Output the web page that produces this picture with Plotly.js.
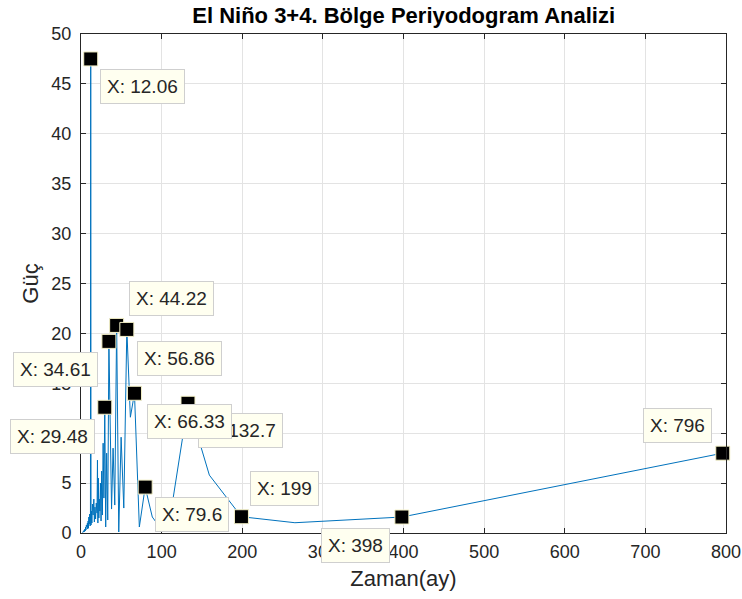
<!DOCTYPE html>
<html>
<head>
<meta charset="utf-8">
<script src="https://cdn.plot.ly/plotly-3.0.1.min.js"></script>
<style>html,body{margin:0;padding:0;background:#fff;}#chart{width:742px;height:599px;}</style>
</head>
<body>
<div id="chart"></div>
<script>
// Periods (months) of the periodogram, N = 796
const periods = [796, 398, 265.33, 199, 159.2, 132.67, 113.71, 99.5, 88.44, 79.6,
  72.36, 66.33, 61.23, 56.86, 53.07, 49.75, 46.82, 44.22, 41.89, 39.8,
  37.9, 36.18, 34.61, 33.17, 31.84, 30.62, 29.48, 28.43, 27.45, 26.53,
  25.68, 24.88, 24.12, 23.41, 22.74, 22.11, 21.51, 20.95, 20.41, 19.9,
  18.95, 18.09, 17.3, 16.58, 15.92, 15.02, 14.21, 13.49, 12.84, 12.44,
  12.06, 11.71, 11.37, 10.76, 10.21, 9.71, 9.26, 8.84, 8.38, 7.96,
  7.24, 6.63, 6.12, 5.69, 5.31, 4.82, 4.42, 3.98, 3.62, 3.18,
  2.84, 2.49, 2.21, 2.0];
// Power values
const power = [8.0, 1.6, 1.03, 1.63, 5.8, 13.0, 3.2, 0.4, 1.6, 4.6,
  0.6, 14.0, 11.6, 20.4, 2.5, 9.6, 0.1, 20.8, 2.8, 8.5,
  2.4, 10.0, 19.2, 1.3, 8.0, 0.6, 12.6, 3.5, 9.0, 1.8,
  6.2, 1.2, 5.0, 2.2, 3.4, 1.5, 5.5, 1.0, 7.3, 2.0,
  3.0, 1.4, 2.6, 1.1, 3.4, 1.8, 2.9, 1.0, 2.2, 0.8,
  47.5, 1.3, 0.7, 1.9, 0.9, 1.6, 0.5, 1.2, 0.4, 1.0,
  0.6, 0.8, 0.3, 0.6, 0.2, 0.4, 0.15, 0.3, 0.1, 0.2,
  0.08, 0.1, 0.05, 0.02];

// Data tips
const tipPeriods = [12.06, 44.22, 56.86, 34.61, 29.48, 132.67, 66.33, 79.6, 199, 398, 796];
const tipLabels  = ['X: 12.06', 'X: 44.22', 'X: 56.86', 'X: 34.61', 'X: 29.48', 'X: 132.7', 'X: 66.33', 'X: 79.6', 'X: 199', 'X: 398', 'X: 796'];
const tipOffsetX = [52, 55, 53, -53, -52, 53, 55, 47, 43, -46, -45];
const tipOffsetY = [28, -27, 29, 28, 29, 27, 28, 27, -28, 28, -28];

const tipY = tipPeriods.map(p => power[periods.indexOf(p)]);

const font = 'Liberation Sans, Arial, Helvetica, sans-serif';
const axisColor = '#262626';

const traces = [
  {x: periods, y: power, type: 'scatter', mode: 'lines',
   line: {color: '#0072BD', width: 1}, hoverinfo: 'skip'},
  {x: tipPeriods, y: tipY, type: 'scatter', mode: 'markers', cliponaxis: false,
   marker: {symbol: 'square', size: 14, color: '#000000', line: {color: '#f4f1c8', width: 1}}}
];

const annotations = tipPeriods.map((p, i) => ({
  x: p, y: tipY[i], xref: 'x', yref: 'y',
  text: tipLabels[i], showarrow: true, arrowcolor: 'rgba(0,0,0,0)', arrowwidth: 0.1,
  ax: tipOffsetX[i], ay: tipOffsetY[i],
  font: {family: font, size: 19, color: '#262626'},
  bgcolor: '#fffff0', bordercolor: '#cfcfcf', borderwidth: 1, borderpad: 6
}));

const axisCommon = {
  showline: true, linecolor: axisColor, linewidth: 1, mirror: 'ticks',
  ticks: 'inside', ticklen: 5, tickcolor: axisColor, tickwidth: 1,
  showgrid: true, gridcolor: '#e3e3e3', gridwidth: 1, zeroline: false,
  tickfont: {family: font, size: 18, color: axisColor}
};

const layout = {
  width: 742, height: 599,
  margin: {l: 81, r: 16, t: 34, b: 66},
  paper_bgcolor: '#ffffff', plot_bgcolor: '#ffffff',
  showlegend: false,
  title: {text: '<b>El Niño 3+4. Bölge Periyodogram Analizi</b>', font: {family: font, size: 22, color: '#000000'},
          x: 0.544, xanchor: 'center', y: 0.975, yanchor: 'middle', xref: 'container', yref: 'container'},
  xaxis: Object.assign({}, axisCommon, {range: [0, 800], tick0: 0, dtick: 100, ticklabelstandoff: 2,
    title: {text: 'Zaman(ay)', font: {family: font, size: 22, color: axisColor}, standoff: 10}}),
  yaxis: Object.assign({}, axisCommon, {range: [0, 50], tick0: 0, dtick: 5, ticklabelstandoff: 5,
    title: {text: 'Güç', font: {family: font, size: 22, color: axisColor}, standoff: 6}}),
  annotations: annotations
};

Plotly.newPlot('chart', traces, layout, {displayModeBar: false, staticPlot: true});
</script>
</body>
</html>
